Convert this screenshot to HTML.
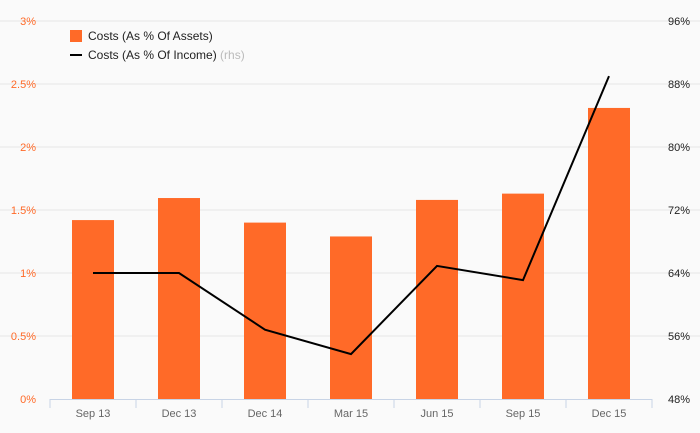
<!DOCTYPE html>
<html><head><meta charset="utf-8"><style>
body{margin:0;background:#fafafa;}
svg{display:block;font-family:"Liberation Sans",sans-serif;}
</style></head><body>
<svg id="chart" width="700" height="433"></svg>
<script>
const categories=["Sep 13","Dec 13","Dec 14","Mar 15","Jun 15","Sep 15","Dec 15"];
const assetCosts=[1.42,1.595,1.40,1.29,1.58,1.63,2.31];
const incomeCosts=[64,64,56.8,53.7,64.9,63.1,89.0];
const leftTicks=[0,0.5,1,1.5,2,2.5,3];
const leftTickLabels=["0%","0.5%","1%","1.5%","2%","2.5%","3%"];
const rightTicks=[48,56,64,72,80,88,96];
const rightTickLabels=["48%","56%","64%","72%","80%","88%","96%"];
const NS="http://www.w3.org/2000/svg";
const svg=document.getElementById('chart');
const x0=50,x1=652,yTop=21,yBot=399;
const bw=(x1-x0)/categories.length;
const yL=v=>yBot-(v-0)/(3-0)*(yBot-yTop);
const yR=v=>yBot-(v-48)/(96-48)*(yBot-yTop);
const xC=i=>x0+bw*(i+0.5);
function mk(tag,attrs,parent){const e=document.createElementNS(NS,tag);for(const k in attrs)e.setAttribute(k,attrs[k]);(parent||svg).appendChild(e);return e;}
leftTicks.forEach((t,i)=>{
  if(i>0){const g=mk('line',{x1:0,x2:700,y1:yL(t),y2:yL(t),stroke:'#e6e6e6','stroke-width':1});
  
  }
  const l=mk('text',{x:36,y:yL(t)+4,'text-anchor':'end','font-size':11,fill:'#ff6a28'});
  l.textContent=leftTickLabels[i];
  
  
});
rightTicks.forEach((t,i)=>{
  const l=mk('text',{x:690,y:yR(t)+4,'text-anchor':'end','font-size':11,fill:'#222'});
  l.textContent=rightTickLabels[i];
  
  
});
assetCosts.forEach((v,i)=>{
  const r=mk('rect',{x:xC(i)-21,y:yL(v),width:42,height:yBot-yL(v),fill:'#ff6a28'});
  
  
});
const ax=mk('line',{x1:x0,x2:x1,y1:yBot+0.5,y2:yBot+0.5,stroke:'#c8d4e6','stroke-width':1});


for(let i=0;i<=categories.length;i++){
  const t=mk('line',{x1:x0+bw*i,x2:x0+bw*i,y1:yBot,y2:yBot+9,stroke:'#c8d4e6','stroke-width':1});
  
  
}
categories.forEach((c,i)=>{
  const l=mk('text',{x:xC(i),y:417,'text-anchor':'middle','font-size':11,fill:'#666'});
  l.textContent=c;
  
  
});
const p=mk('polyline',{points:incomeCosts.map((v,i)=>xC(i)+','+yR(v)).join(' '),fill:'none',stroke:'#000','stroke-width':2});


const lg=mk('g',{});


const s1=mk('rect',{x:70,y:30,width:12,height:12,fill:'#ff6a28'},lg);


const t1=mk('text',{x:88,y:40,'font-size':12,fill:'#222'},lg);
t1.textContent='Costs (As % Of Assets)';


const s2=mk('line',{x1:70,x2:82,y1:55,y2:55,stroke:'#000','stroke-width':2},lg);


const t2=mk('text',{x:88,y:59,'font-size':12,fill:'#222'},lg);
t2.innerHTML='Costs (As % Of Income) <tspan fill="#bbb">(rhs)</tspan>';


</script>
</body></html>
